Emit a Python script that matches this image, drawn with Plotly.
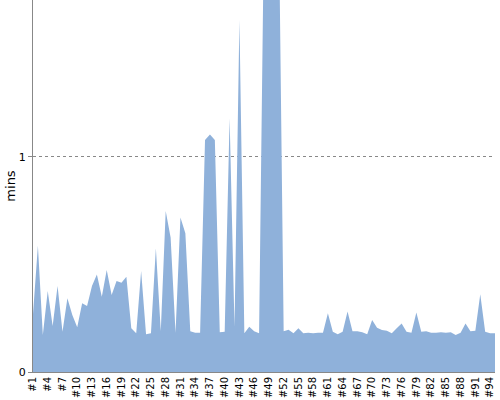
import plotly.graph_objects as go

categories = ["#%d" % i for i in range(1, 96)]
values = [
    0.27, 0.587, 0.172, 0.377, 0.214, 0.40, 0.187, 0.343, 0.265, 0.208,
    0.32, 0.307, 0.40, 0.454, 0.35, 0.474, 0.358, 0.423, 0.415, 0.443,
    0.203, 0.18, 0.47, 0.175, 0.18, 0.575, 0.19, 0.749, 0.626, 0.183,
    0.718, 0.645, 0.19, 0.183, 0.183, 1.079, 1.105, 1.079, 0.185, 0.187,
    1.18, 0.211, 1.637, 0.18, 0.211, 0.19, 0.18, 2.08, 2.3, 2.4,
    2.16, 0.19, 0.197, 0.18, 0.203, 0.18, 0.183, 0.18, 0.183, 0.183,
    0.273, 0.187, 0.176, 0.187, 0.281, 0.19, 0.19, 0.185, 0.176, 0.242,
    0.206, 0.195, 0.192, 0.18, 0.203, 0.226, 0.187, 0.183, 0.277, 0.187,
    0.19, 0.183, 0.183, 0.185, 0.183, 0.185, 0.172, 0.183, 0.226, 0.19,
    0.192, 0.361, 0.187, 0.18, 0.18,
]
tick_labels = categories[::3]
y_ticks = [0, 1]
y_title = "mins"

fig = go.Figure()
fig.add_trace(go.Scatter(
    x=categories, y=values, mode="lines", fill="tozeroy",
    line=dict(width=0, color="#8fb1da"), fillcolor="#8fb1da",
    hoverinfo="x+y",
))

fig.update_layout(
    width=500, height=400,
    margin=dict(l=33, r=5, t=0, b=28, autoexpand=False),
    paper_bgcolor="white", plot_bgcolor="white",
    showlegend=False,
    font=dict(family="DejaVu Sans", size=11, color="#000"),
)
fig.update_xaxes(
    type="category", range=[0, len(categories) - 1],
    tickmode="array", tickvals=tick_labels, ticktext=tick_labels,
    tickangle=-90, tickfont=dict(size=10),
    showgrid=False, showline=True, linecolor="#888", linewidth=1,
    ticks="", zeroline=False, automargin=False,
)
fig.update_yaxes(
    range=[0, 1.73], tickmode="array", tickvals=y_ticks,
    ticktext=[str(v) for v in y_ticks],
    showgrid=True, gridcolor="#888", griddash="dot", gridwidth=1,
    showline=True, linecolor="#888", linewidth=1,
    ticks="outside", ticklen=4, tickcolor="#888",
    zeroline=False, automargin=False,
    title=dict(text=y_title, standoff=0, font=dict(size=13)),
)

fig.write_html(
    "out.html",
    config={"displayModeBar": False},
    post_script="document.body.style.margin='0';document.body.style.overflow='hidden';",
)
